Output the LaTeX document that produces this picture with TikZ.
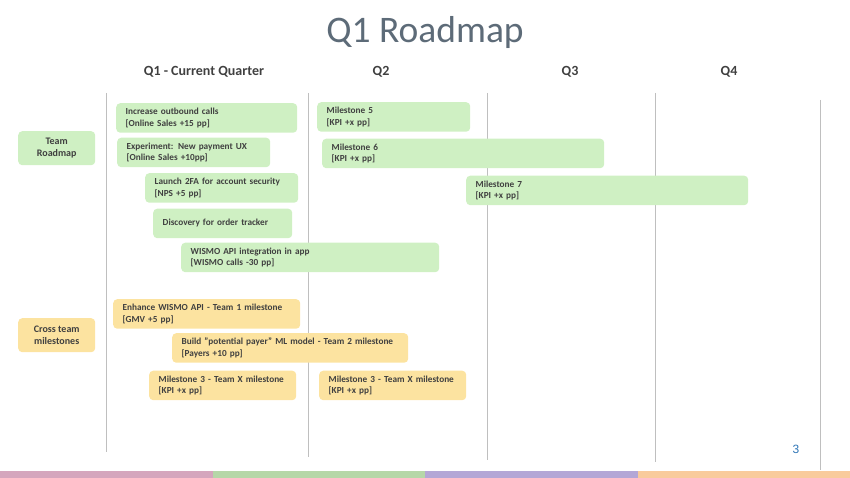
\documentclass[tikz,border=0pt]{standalone}
\usepackage{fontspec}
\setmainfont{Carlito}
\newfontfamily\numfont{Liberation Sans}
\definecolor{gfill}{HTML}{CFF0C3}
\definecolor{yfill}{HTML}{FCE3A0}
\definecolor{txt}{HTML}{404040}
\definecolor{titlec}{HTML}{5D6B78}
\definecolor{gridc}{HTML}{BFBFBF}
\definecolor{numc}{HTML}{2E75B6}
\definecolor{barA}{HTML}{D5A6BD}
\definecolor{barB}{HTML}{B6D7A8}
\definecolor{barC}{HTML}{B4A7D6}
\definecolor{barD}{HTML}{F9CB9C}
\begin{document}
\begin{tikzpicture}[x=1pt,y=-1pt,
  box/.style={rounded corners=4pt, inner xsep=9.5pt, inner ysep=0pt, align=left,
    anchor=north west, minimum height=29.5pt,
    font=\fontsize{9.25}{11.5}\selectfont\bfseries, text=txt},
  gbox/.style={box, fill=gfill},
  ybox/.style={box, fill=yfill},
  lab/.style={rounded corners=4pt, align=center, anchor=north west, inner sep=0pt,
    minimum width=77pt, minimum height=34pt,
    font=\fontsize{10}{12.5}\selectfont\bfseries, text=txt},
  head/.style={font=\fontsize{14}{16}\selectfont\bfseries, text=txt},
  grid/.style={draw=gridc, line width=0.8pt}]
\useasboundingbox (0,0) rectangle (850,478);
% title and headers
\node[font=\fontsize{37.5}{42}\selectfont, text=titlec] (title) at (425,33) {Q1 Roadmap};
\node[head] (h1) at (204,72) {Q1 - Current Quarter};
\node[head] (h2) at (381,72) {Q2};
\node[head] (h3) at (570,72) {Q3};
\node[head] (h4) at (729,72) {Q4};
% grid lines
\draw[grid] (106,93) -- (106,452);
\draw[grid] (308,93) -- (308,457);
\draw[grid] (487,93) -- (487,460);
\draw[grid] (655,93) -- (655,462);
\draw[grid] (820,100) -- (820,470);
% row labels
\node[lab, fill=gfill] (team) at (18,131) {Team\\Roadmap};
\node[lab, fill=yfill] (cross) at (18,318) {Cross team\\milestones};
% team roadmap boxes
\node[gbox, text width=162pt] (b1) at (116,103) {Increase outbound calls\\{}[Online Sales +15 pp]};
\node[gbox, text width=134pt] (b2) at (117,137.5) {Experiment: New payment UX\\{}[Online Sales +10pp]};
\node[gbox, text width=134pt] (b3) at (145,173) {Launch 2FA for account security\\{}[NPS +5 pp]};
\node[gbox, text width=120pt] (b4) at (153,208.5) {Discovery for order tracker};
\node[gbox, text width=239pt] (b5) at (181,242.5) {WISMO API integration in app\\{}[WISMO calls -30 pp]};
\node[gbox, text width=134pt] (m5) at (317,102) {Milestone 5\\{}[KPI +x pp]};
\node[gbox, text width=263pt] (m6) at (322,138.5) {Milestone 6\\{}[KPI +x pp]};
\node[gbox, text width=263pt] (m7) at (466,175.5) {Milestone 7\\{}[KPI +x pp]};
% cross team boxes
\node[ybox, text width=168pt] (y1) at (113,299) {Enhance WISMO API - Team 1 milestone\\{}[GMV +5 pp]};
\node[ybox, text width=217pt] (y2) at (172,333) {Build "potential payer" ML model - Team 2 milestone\\{}[Payers +10 pp]};
\node[ybox, text width=128pt] (y3) at (149,370.5) {Milestone 3 - Team X milestone\\{}[KPI +x pp]};
\node[ybox, text width=128pt] (y4) at (319,370.5) {Milestone 3 - Team X milestone\\{}[KPI +x pp]};
% page number
\node[font=\numfont\fontsize{12}{14}\selectfont, text=numc] (pg) at (796,449) {3};
% bottom bar
\fill[barA] (0,471) rectangle (212.5,478);
\fill[barB] (212.5,471) rectangle (425,478);
\fill[barC] (425,471) rectangle (637.5,478);
\fill[barD] (637.5,471) rectangle (850,478);
\end{tikzpicture}
\end{document}
